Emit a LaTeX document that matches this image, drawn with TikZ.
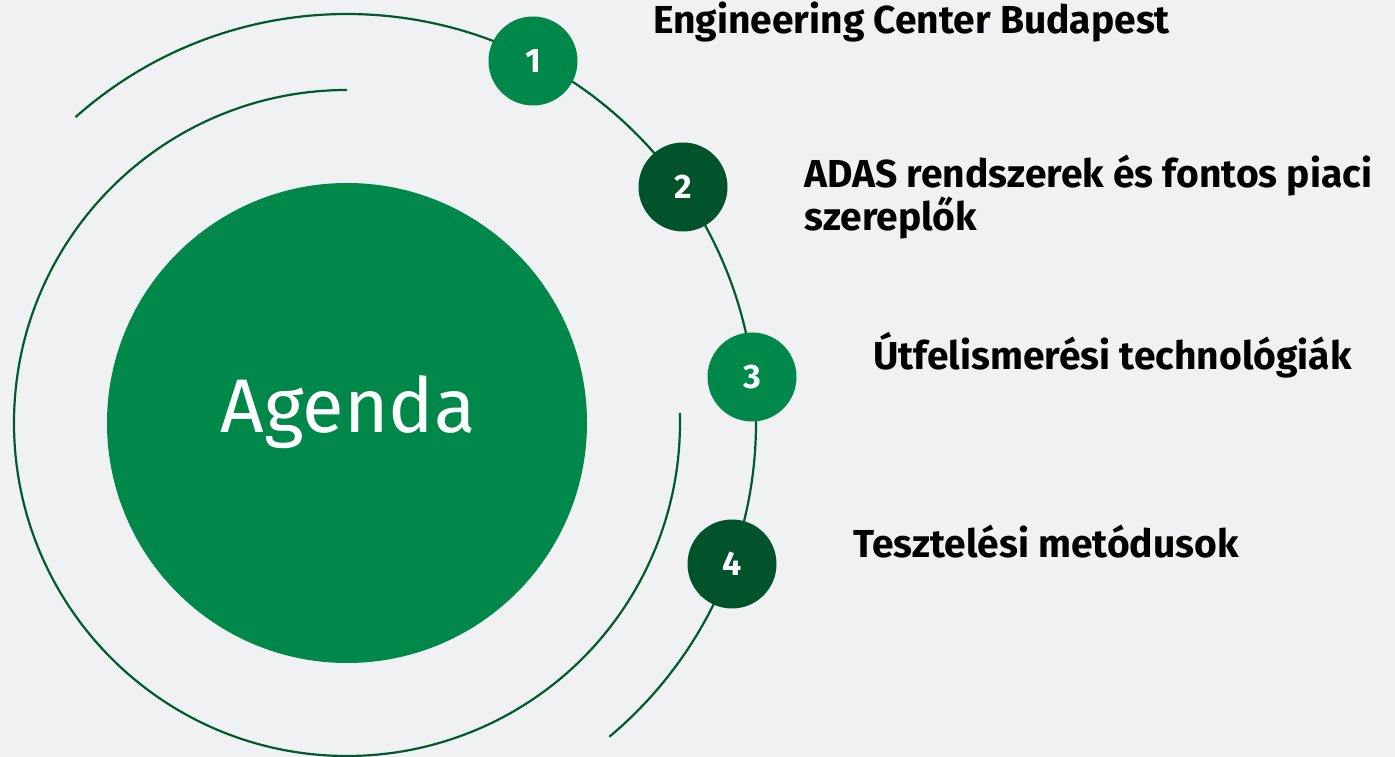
\documentclass[tikz,border=0pt]{standalone}
\usepackage{fontspec}
\setmainfont{Fira Sans}
\definecolor{bgc}{HTML}{EFF1F2}
\definecolor{midg}{HTML}{00884A}
\definecolor{darkg}{HTML}{00532B}
\definecolor{lineg}{HTML}{005A2E}
\tikzset{
  arcline/.style={draw=lineg, line width=2.2pt},
  numnode/.style={circle, minimum size=89pt, inner sep=0pt, text=white, font=\fontsize{34}{38}\selectfont\bfseries},
  lbl/.style={anchor=west, inner sep=0pt, align=left, text=black, font=\fontsize{39}{42}\selectfont\bfseries}
}
\begin{document}
\begin{tikzpicture}[x=1pt,y=1pt]
\fill[bgc] (0,0) rectangle (1395,757);
\useasboundingbox (0,0) rectangle (1395,757);
\coordinate (c) at (347,334);
\fill[midg] (c) circle[radius=240pt];
\node[text=white, font=\fontsize{76}{80}\selectfont, anchor=base, inner sep=0pt] (agenda) at (348,324) {Agenda};
\draw[arcline] (c) ++(90:333pt) arc[start angle=90, end angle=361.7, radius=333pt];
\draw[arcline] (c) ++(131.6:409pt) arc[start angle=131.6, end angle=-50.1, radius=409pt];
\node[numnode, fill=midg] (n1) at (533,696) {1};
\node[numnode, fill=darkg] (n2) at (683,570) {2};
\node[numnode, fill=midg] (n3) at (752,380) {3};
\node[numnode, fill=darkg] (n4) at (732,193) {4};
\node[lbl] (t1) at (653,735) {Engineering Center Budapest};
\node[lbl] (t2) at (804,560) {ADAS rendszerek és fontos piaci\\szereplők};
\node[lbl] (t3) at (873,402) {Útfelismerési technológiák};
\node[lbl] (t4) at (853,215) {Tesztelési metódusok};
\end{tikzpicture}
\end{document}
